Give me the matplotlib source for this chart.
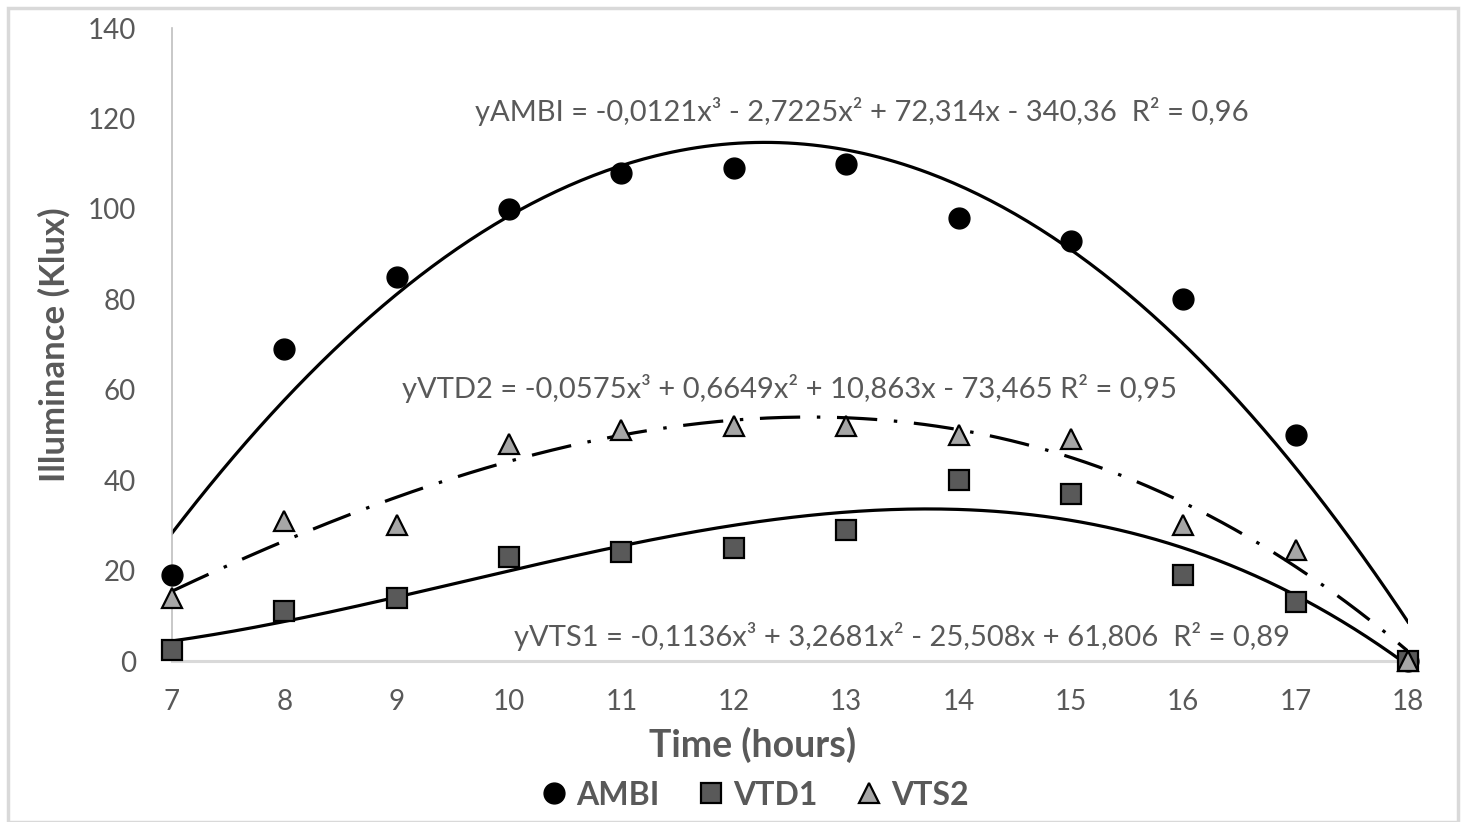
import numpy as np
import matplotlib
matplotlib.use("Agg")
import matplotlib.pyplot as plt
from matplotlib.patches import Rectangle

plt.rcParams['font.family'] = ['Lato', 'DejaVu Sans']
plt.rcParams['lines.scale_dashes'] = False

# data
hours = [7, 8, 9, 10, 11, 12, 13, 14, 15, 16, 17, 18]
ambi = [19, 69, 85, 100, 108, 109, 110, 98, 93, 80, 50, 0]
vtd1 = [2.5, 11, 14, 23, 24, 25, 29, 40, 37, 19, 13, 0]
vts2 = [14, 31, 30, 48, 51, 52, 52, 50, 49, 30, 24.5, 0]

# trendline coefficients as printed on the chart (cubic, highest power first)
coef_ambi = [-0.0121, -2.7225, 72.314, -340.36]
coef_vtd2 = [-0.0575, 0.6649, 10.863, -73.465]
coef_vts1 = [-0.1136, 3.2681, -25.508, 61.806]

eq_ambi = "yAMBI = -0,0121x³ - 2,7225x² + 72,314x - 340,36  R² = 0,96"
eq_vtd2 = "yVTD2 = -0,0575x³ + 0,6649x² + 10,863x - 73,465 R² = 0,95"
eq_vts1 = "yVTS1 = -0,1136x³ + 3,2681x² - 25,508x + 61,806  R² = 0,89"

gray_txt = '#595959'

fig = plt.figure(figsize=(14.68, 8.22), dpi=100)
ax = fig.add_axes([172 / 1468, 1 - 661 / 822, (1408 - 172) / 1468, (661 - 28) / 822])

xs = np.linspace(7, 18, 300)
ax.plot(xs, np.polyval(coef_ambi, xs), color='black', lw=2.3, zorder=2)
ax.plot(xs, np.polyval(coef_vts1, xs), color='black', lw=2.3, zorder=2)
ax.plot(xs, np.polyval(coef_vtd2, xs), color='black', lw=2.3, zorder=2,
        dashes=(29, 12, 2.5, 12), dash_capstyle='butt')

ax.plot(hours, ambi, 'o', ms=15, color='black', mec='black', label='AMBI',
        clip_on=False, zorder=4)
ax.plot(hours, vtd1, 's', ms=14, color='#595959', mec='black', mew=1.6,
        label='VTD1', clip_on=False, zorder=4)
ax.plot(hours, vts2, '^', ms=14, color='#a6a6a6', mec='black', mew=1.6,
        label='VTS2', clip_on=False, zorder=5)

ax.text(13.14, 121.6, eq_ambi, ha='center', va='center', fontsize=21, color=gray_txt)
ax.text(12.5, 60.2, eq_vtd2, ha='center', va='center', fontsize=21, color=gray_txt)
ax.text(13.5, 5.5, eq_vts1, ha='center', va='center', fontsize=21, color=gray_txt)

ax.set_xlim(7, 18)
ax.set_ylim(0, 140)
ax.set_xticks(hours)
ax.set_yticks(range(0, 141, 20))
ax.tick_params(length=0, labelsize=20, labelcolor=gray_txt)
ax.tick_params(axis='y', pad=26)
ax.tick_params(axis='x', pad=20)

for s in ['top', 'right']:
    ax.spines[s].set_visible(False)
ax.spines['left'].set_color('#bfbfbf')
ax.spines['left'].set_linewidth(1.2)
ax.spines['bottom'].set_color('#d9d9d9')
ax.spines['bottom'].set_linewidth(2.2)

ax.set_xlabel('Time (hours)', fontsize=27, fontweight='bold', color=gray_txt, va='center')
ax.xaxis.set_label_coords(0.47, -0.133)
ax.set_ylabel('Illuminance (Klux)', fontsize=25, fontweight='bold', color=gray_txt, labelpad=12)

fig.legend(loc='center', bbox_to_anchor=(0.512, 1 - 795 / 822), ncol=3, frameon=False,
           handletextpad=0.1, columnspacing=1.0, handlelength=1.2,
           labelcolor=gray_txt, prop={'weight': 'bold', 'size': 23})

fig.patches.append(Rectangle((8 / 1468, 0), 1450 / 1468, 1 - 8 / 822,
                             transform=fig.transFigure, fill=False,
                             edgecolor='#d9d9d9', lw=2.5))

fig.savefig('out.png', dpi=100)
